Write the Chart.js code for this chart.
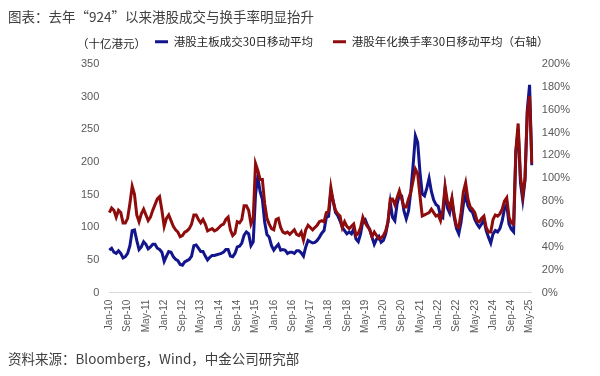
<!DOCTYPE html>
<html>
<head>
<meta charset="utf-8">
<script src="https://cdn.jsdelivr.net/npm/chart.js@4.4.1/dist/chart.umd.min.js"></script>
<style>
  html, body { margin:0; padding:0; background:#fff; }
  body { width:600px; height:376px; position:relative; overflow:hidden; font-family:"Noto Sans CJK SC", sans-serif; }
  #title { position:absolute; left:8px; top:8px; font-size:13.5px; line-height:16px; color:#404040; white-space:nowrap; }
  #unit { position:absolute; left:77px; top:36px; font-size:11.5px; line-height:14px; color:#262626; white-space:nowrap; }
  #source { position:absolute; left:8px; top:350px; font-size:13.5px; line-height:16px; color:#404040; white-space:nowrap; }
  #c { position:absolute; left:0; top:0; }
</style>
</head>
<body>
<canvas id="c" width="600" height="376"></canvas>
<div id="title">图表：去年“924”以来港股成交与换手率明显抬升</div>
<div id="unit">（十亿港元）</div>
<div id="source">资料来源：Bloomberg，Wind，中金公司研究部</div>
<script>
// ---- data ----
const monthNames = ["Jan","Feb","Mar","Apr","May","Jun","Jul","Aug","Sep","Oct","Nov","Dec"];
const categories = [];
for (let y = 2010; y <= 2025; y++) {
  for (let m = 0; m < 12; m++) {
    if (y === 2025 && m > 5) break;
    categories.push(monthNames[m] + "-" + String(y).slice(2));
  }
}
const tickLabels = ["Jan-10","Sep-10","May-11","Jan-12","Sep-12","May-13","Jan-14","Sep-14","May-15","Jan-16","Sep-16","May-17","Jan-18","Sep-18","May-19","Jan-20","Sep-20","May-21","Jan-22","Sep-22","May-23","Jan-24","Sep-24","May-25"];

// 港股主板成交30日移动平均 (十亿港元)
const turnover = [
  65,68,62,60,64,60,53,55,60,72,95,96,
  80,66,70,78,74,67,70,74,74,68,66,62,
  48,56,63,62,55,51,49,43,42,47,49,51,
  56,72,73,68,63,63,56,50,54,57,57,58,
  59,60,62,66,66,56,55,60,70,71,76,88,
  93,90,72,78,150,177,155,143,108,89,85,72,
  65,70,74,65,66,65,60,62,62,60,64,64,
  61,56,70,80,78,76,77,80,85,91,95,115,
  117,155,140,123,118,110,100,95,90,93,90,98,
  82,78,90,110,112,103,97,85,74,82,86,77,
  80,90,108,138,115,110,136,150,148,125,113,125,
  155,195,240,230,185,151,148,160,175,155,142,135,
  132,118,115,158,130,122,141,115,98,90,108,135,
  150,133,126,123,112,105,100,105,112,95,85,76,
  90,95,93,98,110,128,135,105,97,93,215,250,
  168,142,172,280,318,195
];

// 港股年化换手率30日移动平均 (%, 右轴)
const turnoverRate = [
  70,74,72,66,72,70,61,61,65,78,93,86,
  68,62,69,73,68,63,66,72,77,82,84,72,
  58,65,68,63,58,55,53,49,50,53,54,56,
  60,68,68,64,61,64,60,54,55,56,54,55,
  57,59,60,64,66,55,50,52,62,61,64,76,
  76,72,60,65,113,107,99,99,78,65,60,56,
  55,64,65,57,53,52,53,51,53,55,51,50,
  53,46,55,59,57,55,57,59,62,63,62,70,
  71,92,80,72,69,67,57,62,58,56,58,60,
  50,52,57,66,61,58,55,49,53,50,47,48,
  50,54,62,82,82,77,83,89,82,75,75,82,
  88,98,108,104,85,67,68,69,70,73,70,67,
  68,63,72,93,80,74,83,68,58,57,70,88,
  96,82,75,73,70,63,62,65,67,57,53,53,
  64,68,67,69,73,80,83,66,61,60,125,148,
  102,85,100,158,172,113
];

const leftTicks = { min: 0, max: 350, step: 50 };
const rightTicks = { min: 0, max: 200, step: 20 };

const BLUE = "#12158c";
const RED = "#8e0c0c";

const legendTweak = {
  id: "legendTweak",
  afterInit(chart) {
    const lg = chart.legend;
    const orig = lg.fit;
    lg.fit = function () { orig.call(this); this.height = 48; };
  },
  afterLayout(chart) {
    const lg = chart.legend;
    lg.left = 155 - 20;
    lg.right = 598;
  }
};

const tickFont = { family: "'Liberation Sans', Arial, sans-serif", size: 11 };

new Chart(document.getElementById("c"), {
  type: "line",
  data: {
    labels: categories,
    datasets: [
      {
        label: "港股主板成交30日移动平均",
        data: turnover,
        yAxisID: "y",
        borderColor: BLUE,
        backgroundColor: BLUE,
        borderWidth: 3,
        pointRadius: 0,
        tension: 0,
        order: 2
      },
      {
        label: "港股年化换手率30日移动平均（右轴）",
        data: turnoverRate,
        yAxisID: "y1",
        borderColor: RED,
        backgroundColor: RED,
        borderWidth: 3,
        pointRadius: 0,
        tension: 0,
        order: 1
      }
    ]
  },
  options: {
    responsive: false,
    animation: false,
    devicePixelRatio: 1,
    layout: { padding: { top: 16, left: 71, right: 20, bottom: 36 } },
    plugins: {
      tooltip: { enabled: false },
      legend: {
        display: true,
        position: "top",
        align: "start",
        fullSize: false,
        labels: {
          boxWidth: 13,
          boxHeight: 3,
          padding: 20,
          color: "#262626",
          font: { family: "'Noto Sans CJK SC', sans-serif", size: 11.5 },
          sort: (a, b) => a.datasetIndex - b.datasetIndex,
          generateLabels(chart) {
            const items = Chart.defaults.plugins.legend.labels.generateLabels(chart);
            items.forEach(it => { it.lineWidth = 0; it.strokeStyle = it.fillStyle; });
            return items;
          }
        }
      }
    },
    scales: {
      x: {
        type: "category",
        offset: false,
        grid: { display: false, drawTicks: false },
        border: { display: true, color: "#d9d9d9", width: 1 },
        ticks: {
          autoSkip: false,
          minRotation: 90,
          maxRotation: 90,
          padding: 7,
          color: "#595959",
          font: { family: "'Liberation Sans', Arial, sans-serif", size: 10 },
          callback(v, i) {
            const l = categories[i];
            return tickLabels.includes(l) ? l : null;
          }
        }
      },
      y: {
        position: "left",
        min: leftTicks.min,
        max: leftTicks.max,
        grid: { display: false, drawTicks: false },
        border: { display: false },
        ticks: { stepSize: leftTicks.step, padding: 10, color: "#595959", font: tickFont }
      },
      y1: {
        position: "right",
        min: rightTicks.min,
        max: rightTicks.max,
        grid: { display: false, drawTicks: false },
        border: { display: false },
        ticks: { stepSize: rightTicks.step, padding: 10, color: "#595959", font: tickFont, callback: v => v + "%" }
      }
    }
  },
  plugins: [legendTweak]
});
</script>
</body>
</html>
